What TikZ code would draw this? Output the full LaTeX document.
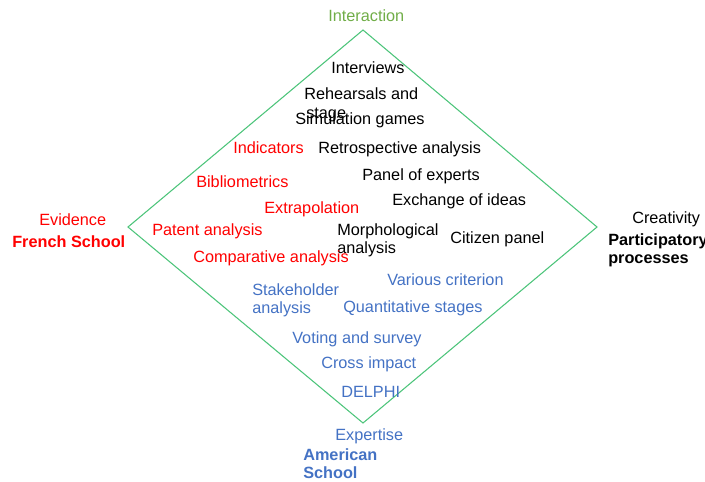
\documentclass[tikz,border=0pt]{standalone}
\usepackage{fontspec}
\setmainfont{Liberation Sans}
\usepackage{xcolor}
\usetikzlibrary{positioning}

\definecolor{line-g}{RGB}{76,196,122}
\definecolor{word-g}{RGB}{112,173,71}
\definecolor{word-b}{RGB}{68,114,196}
\definecolor{word-r}{RGB}{255,0,0}

\begin{document}
\begin{tikzpicture}
[
x=0.75pt, y=-0.75pt,
every node/.style={inner sep=0pt, anchor=base west, font=\fontsize{12.2}{14}\selectfont},
text-k/.style={black},
text-r/.style={word-r},
text-b/.style={word-b},
text-g/.style={word-g},
bold/.style={font=\fontsize{12.2}{14}\selectfont\bfseries},
edge-g/.style={draw=line-g, line width=0.8pt}
]
\useasboundingbox (0,0) rectangle (705,481);

% corners of the diamond
\coordinate (top)    at (363,30);
\coordinate (right)  at (597,227);
\coordinate (bottom) at (363,423);
\coordinate (left)   at (128,227);
\draw [edge-g] (top) -- (right) -- (bottom) -- (left) -- cycle;

% corner labels
\node (interaction)  [text-g]       at (328,22)  {Interaction};
\node (evidence)     [text-r]       at (39,225)  {Evidence};
\node (french)       [text-r, bold] at (12,247)  {French School};
\node (creativity)   [text-k]       at (632,223) {Creativity};
\node (particip)     [text-k, bold] at (608,245) {Participatory};
\node (processes)    [text-k, bold] at (608,263) {processes};
\node (expertise)    [text-b]       at (335,440) {Expertise};
\node (american)     [text-b, bold] at (303,460) {American};
\node (school)       [text-b, bold] at (303,478) {School};

% black: participatory methods
\node (interviews)   [text-k] at (331,74)  {Interviews};
\node (rehearsals)   [text-k] at (304,100) {Rehearsals and};
\node (stage)        [text-k] at (306,118) {stage};
\node (simulation)   [text-k] at (295,124) {Simulation games};
\node (retro)        [text-k] at (318,153) {Retrospective analysis};
\node (panel)        [text-k] at (362,180) {Panel of experts};
\node (exchange)     [text-k] at (392,205) {Exchange of ideas};
\node (morpho)       [text-k] at (337,235) {Morphological};
\node (morpho-2)     [text-k] at (337,253) {analysis};
\node (citizen)      [text-k] at (450,243) {Citizen panel};

% red: evidence methods
\node (indicators)   [text-r] at (233,153) {Indicators};
\node (biblio)       [text-r] at (196,187) {Bibliometrics};
\node (extrapol)     [text-r] at (264,213) {Extrapolation};
\node (patent)       [text-r] at (152,235) {Patent analysis};
\node (compar)       [text-r] at (193,262) {Comparative analysis};

% blue: expertise methods
\node (various)      [text-b] at (387,285) {Various criterion};
\node (stake)        [text-b] at (252,295) {Stakeholder};
\node (stake-2)      [text-b] at (252,313) {analysis};
\node (quanti)       [text-b] at (343,312) {Quantitative stages};
\node (voting)       [text-b] at (292,343) {Voting and survey};
\node (cross)        [text-b] at (321,368) {Cross impact};
\node (delphi)       [text-b] at (341,397) {DELPHI};

\end{tikzpicture}
\end{document}
